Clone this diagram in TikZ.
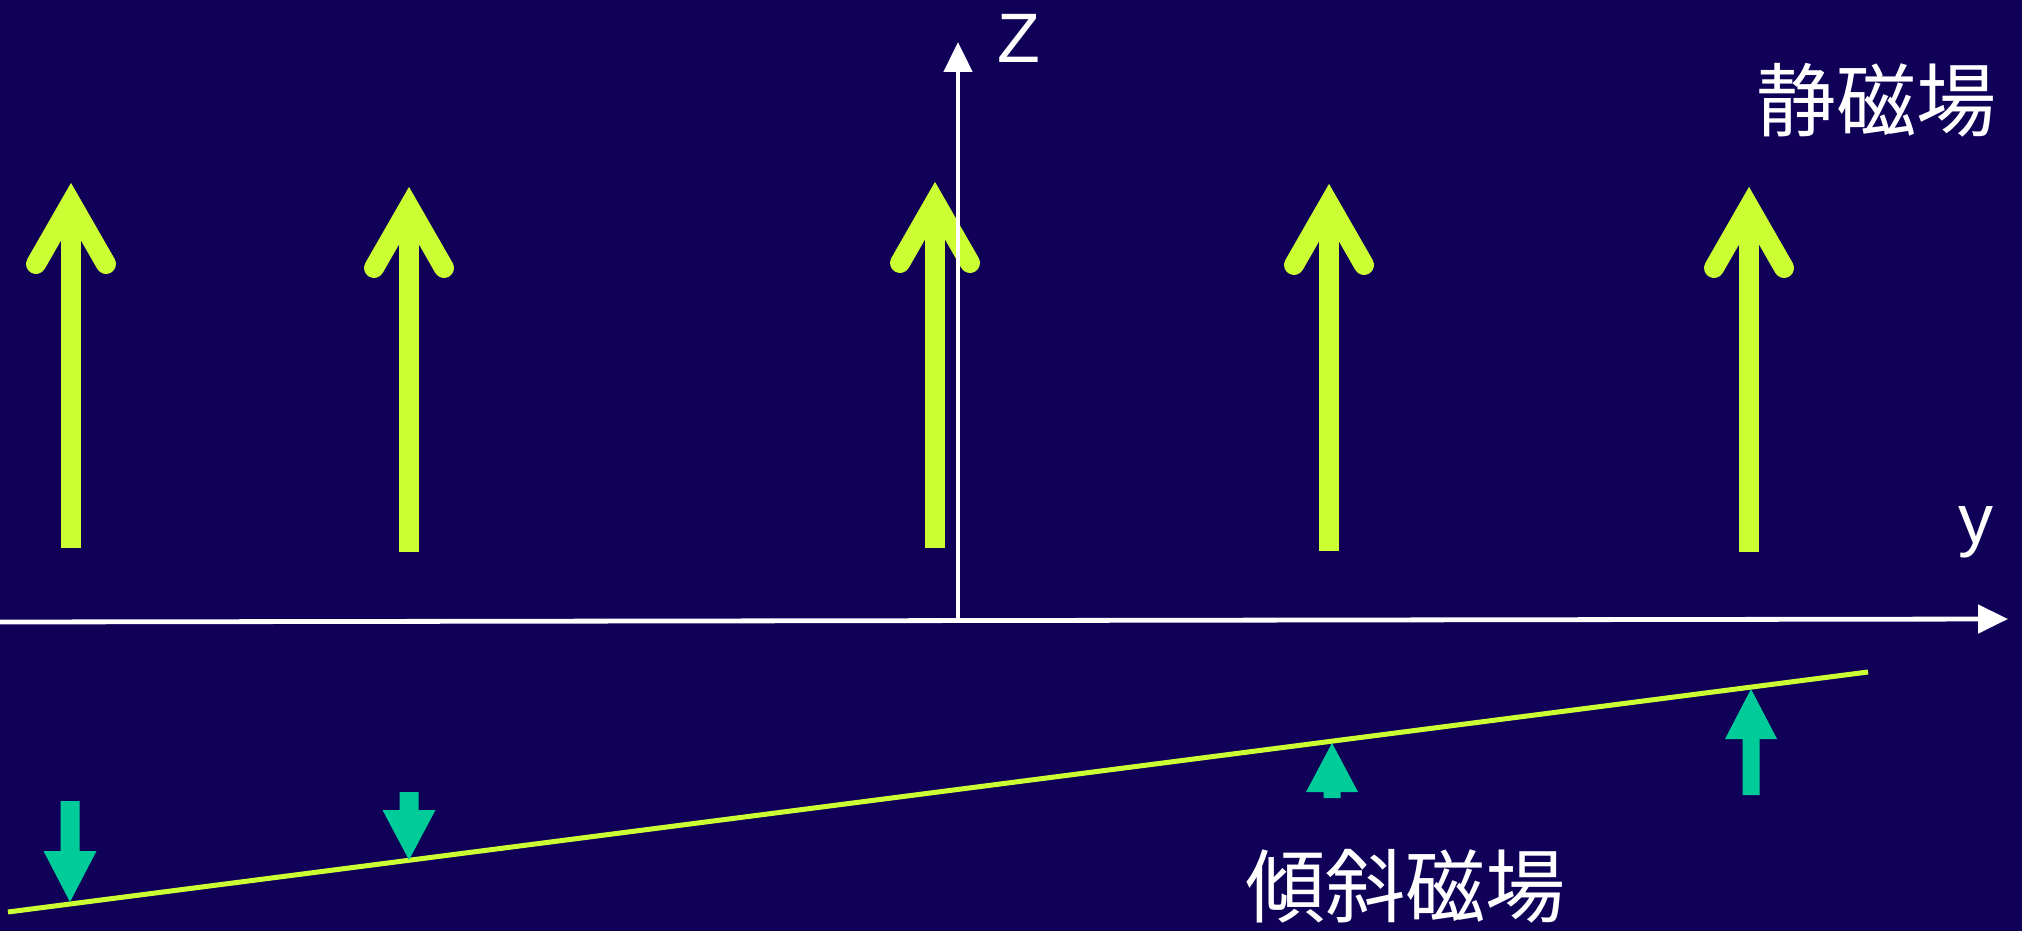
\documentclass[tikz,border=0pt]{standalone}
\usepackage{fontspec}
\setmainfont{Liberation Sans}
\newfontfamily\jpfont{Noto Sans CJK JP}
\usetikzlibrary{arrows.meta}
\definecolor{bgblue}{RGB}{17,0,88}
\definecolor{fieldyellow}{RGB}{204,255,51}
\definecolor{fieldteal}{RGB}{0,204,153}

\newcommand\staticarrow[3]{% x, tip y, bottom y
  \draw[staticstem] (#1,#3) -- (#1,#2+22);
  \draw[staticbarb] (#1-35,#2+81) -- (#1,#2+20) -- (#1+35,#2+81);
}
\newcommand\tiltup[4]{% x, tip y, head base y, stem bottom y
  \fill[fieldteal] (#1,#2) -- (#1+26,#3) -- (#1+8.5,#3) -- (#1+8.5,#4) -- (#1-8.5,#4) -- (#1-8.5,#3) -- (#1-26,#3) -- cycle;
}
\newcommand\tiltdown[4]{% x, tip y, head base y, stem top y
  \fill[fieldteal] (#1,#2) -- (#1+26.5,#3) -- (#1+9.5,#3) -- (#1+9.5,#4) -- (#1-9.5,#4) -- (#1-9.5,#3) -- (#1-26.5,#3) -- cycle;
}

\begin{document}
\begin{tikzpicture}[x=0.5pt,y=-0.5pt,
  axis/.style={draw=white, line width=2.4pt, -{Triangle[length=15pt,width=14pt]}},
  staticstem/.style={draw=fieldyellow, line width=10pt},
  staticbarb/.style={draw=fieldyellow, line width=10pt, line cap=round, line join=miter},
  tiltline/.style={draw=fieldyellow, line width=2.5pt},
  axislabel/.style={text=white, font=\fontsize{35}{40}\selectfont, inner sep=0pt, anchor=base},
  jplabel/.style={text=white, font=\jpfont\fontsize{40}{46}\selectfont, inner sep=0pt}]
\fill[bgblue] (0,0) rectangle (2022,931);
\useasboundingbox (0,0) rectangle (2022,931);

% static field arrows
\staticarrow{71}{183}{548}
\staticarrow{409}{187}{552}
\staticarrow{935}{182}{548}
\staticarrow{1329}{184}{551}
\staticarrow{1749}{187}{552}

% axes
\coordinate (origin) at (958,620);
\coordinate (zend) at (958,42);
\coordinate (yleft) at (0,622);
\coordinate (yend) at (2008,619);
\draw[axis] (origin) -- (zend);
\draw[axis] (yleft) -- (yend);
\node[axislabel] (zlab) at (1019,63) {Z};
\node[axislabel] (ylab) at (1976,543) {y};

% tilted field line
\coordinate (tl) at (8,912);
\coordinate (tr) at (1868,672);
\draw[tiltline] (tl) -- (tr);

% tilted field components
\tiltdown{70}{902}{851}{801}
\tiltdown{409}{860}{810}{792}
\tiltup{1332}{743}{792}{798}
\tiltup{1751}{689}{739}{795}

% labels
\node[jplabel] (static) at (1876,100) {静磁場};
\node[jplabel] (tilted) at (1405,886) {傾斜磁場};
\end{tikzpicture}
\end{document}
